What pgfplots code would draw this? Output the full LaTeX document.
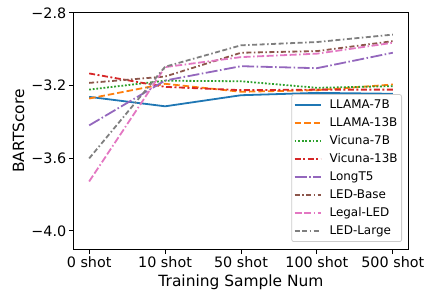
\documentclass[border=0pt]{standalone}
\usepackage{pgfplots}
\pgfplotsset{compat=1.18}
\usepackage{fontspec}
\setmainfont{DejaVu Sans}
\definecolor{c0}{HTML}{1F77B4}
\definecolor{c1}{HTML}{FF7F0E}
\definecolor{c2}{HTML}{2CA02C}
\definecolor{c3}{HTML}{D62728}
\definecolor{c4}{HTML}{9467BD}
\definecolor{c5}{HTML}{8C564B}
\definecolor{c6}{HTML}{E377C2}
\definecolor{c7}{HTML}{7F7F7F}
\begin{document}
\begin{tikzpicture}
\begin{axis}[
  at={(0,0)}, anchor=south west,
  scale only axis, width=334bp, height=236bp,
  xmin=-0.2, xmax=4.2, ymin=-4.1, ymax=-2.8,
  xtick={0,1,2,3,4}, xticklabels={0 shot,10 shot,50 shot,100 shot,500 shot},
  ytick={-4,-3.6,-3.2,-2.8}, yticklabels={−4.0,−3.6,−3.2,−2.8},
  tick align=outside, xtick pos=bottom, ytick pos=left,
  major tick length=5bp,
  every tick/.style={black, line width=1bp},
  axis line style={line width=1bp},
  tick label style={font=\fontsize{14.4}{17}\selectfont},
  xticklabel style={inner sep=0pt, anchor=north, yshift=-2.5bp},
  yticklabel style={inner sep=0pt, anchor=east, xshift=-2.5bp},
  xlabel={Training Sample Num}, ylabel={BARTScore},
  every axis x label/.style={at={(axis description cs:0.5,0)}, anchor=north, yshift=-25.5bp, inner sep=0pt, font=\fontsize{15.5}{18}\selectfont},
  every axis y label/.style={at={(axis description cs:-0.1662,0.5)}, rotate=90, anchor=center, inner sep=0pt, font=\fontsize{15.5}{18}\selectfont},
  legend cell align=left,
  legend image code/.code={\draw[#1] (0bp,0bp) -- (26bp,0bp);},
  legend style={at={(axis description cs:1,0)}, anchor=south east, xshift=-6bp, yshift=7bp,
    fill=white, fill opacity=0.8, draw opacity=1, text opacity=1, draw=black!20, line width=0.8bp, rounded corners=2bp,
    font=\fontsize{12}{14}\selectfont, inner xsep=2bp, inner ysep=4.75bp,
    nodes={inner ysep=0pt, inner xsep=2bp, text height=9bp, text depth=2.5bp},
    row sep=6.5bp, column sep=6bp},
  every axis plot/.append style={line width=1.8bp},
]
\addplot[c0, solid] coordinates {(0,-3.262) (1,-3.314) (2,-3.253) (3,-3.240) (4,-3.245)};
\addlegendentry{LLAMA-7B}
\addplot[c1, dash pattern=on 6.5bp off 3bp] coordinates {(0,-3.271) (1,-3.190) (2,-3.234) (3,-3.225) (4,-3.194)};
\addlegendentry{LLAMA-13B}
\addplot[c2, dash pattern=on 1.8bp off 1.8bp] coordinates {(0,-3.222) (1,-3.173) (2,-3.176) (3,-3.212) (4,-3.203)};
\addlegendentry{Vicuna-7B}
\addplot[c3, dash pattern=on 6bp off 2.5bp on 2bp off 2.5bp] coordinates {(0,-3.133) (1,-3.207) (2,-3.225) (3,-3.222) (4,-3.222)};
\addlegendentry{Vicuna-13B}
\addplot[c4, dash pattern=on 12bp off 2.5bp on 1.5bp off 2.5bp] coordinates {(0,-3.419) (1,-3.172) (2,-3.093) (3,-3.104) (4,-3.019)};
\addlegendentry{LongT5}
\addplot[c5, dash pattern=on 5bp off 2.5bp on 1.5bp off 2.5bp] coordinates {(0,-3.185) (1,-3.150) (2,-3.019) (3,-3.010) (4,-2.955)};
\addlegendentry{LED-Base}
\addplot[c6, dash pattern=on 7bp off 2.5bp on 7bp off 2.5bp on 1.5bp off 2.5bp] coordinates {(0,-3.728) (1,-3.098) (2,-3.043) (3,-3.024) (4,-2.964)};
\addlegendentry{Legal-LED}
\addplot[c7, dash pattern=on 5bp off 2.5bp on 5bp off 2.5bp on 1.5bp off 2.5bp] coordinates {(0,-3.601) (1,-3.096) (2,-2.978) (3,-2.960) (4,-2.919)};
\addlegendentry{LED-Large}
\end{axis}
\pgfresetboundingbox
\path[use as bounding box] (-74bp,-49bp) rectangle (353bp,249bp);
\end{tikzpicture}
\end{document}
